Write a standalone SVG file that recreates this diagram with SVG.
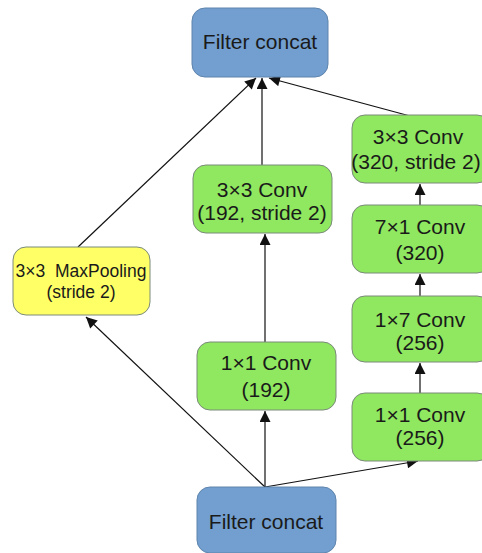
<svg xmlns="http://www.w3.org/2000/svg" width="482" height="553" viewBox="0 0 482 553">
  <style>
    .box { stroke: #7a8a7a; stroke-width: 1; }
    .blue { fill: #729fcf; stroke: #5f84ad; }
    .green { fill: #8fe85f; }
    .yellow { fill: #ffff66; }
    text { font-family: "Liberation Sans", Arial, sans-serif; font-size: 21px; fill: #1a1a1a; text-anchor: middle; white-space: pre; }
    .small { font-size: 17.5px; }
    .edge { stroke: #111; stroke-width: 1.2; fill: none; marker-end: url(#arrow); }
  </style>
  <defs>
    <marker id="arrow" viewBox="0 0 10 10" refX="10" refY="5" markerWidth="12" markerHeight="11" markerUnits="userSpaceOnUse" orient="auto">
      <path d="M0,0 L10,5 L0,10 z" fill="#111"/>
    </marker>
  </defs>

  <g id="connectors">
    <line class="edge" x1="265" y1="487" x2="86" y2="317"/>
    <line class="edge" x1="265" y1="487" x2="265" y2="411"/>
    <line class="edge" x1="265" y1="487" x2="418" y2="461"/>
    <line class="edge" x1="265" y1="342" x2="265" y2="234"/>
    <line class="edge" x1="420" y1="393" x2="420" y2="363"/>
    <line class="edge" x1="420" y1="296" x2="420" y2="274"/>
    <line class="edge" x1="420" y1="205" x2="420" y2="184"/>
    <line class="edge" x1="262" y1="165" x2="262" y2="78"/>
    <line class="edge" x1="78" y1="247" x2="256" y2="78"/>
    <line class="edge" x1="410" y1="116" x2="269" y2="78"/>
  </g>

  <g id="concat-top">
    <rect class="box blue" x="192" y="8" width="136" height="69" rx="13"/>
    <text x="260" y="49">Filter concat</text>
  </g>

  <g id="concat-bottom">
    <rect class="box blue" x="197" y="487" width="139" height="66" rx="13"/>
    <text x="266" y="529">Filter concat</text>
  </g>

  <g id="maxpool">
    <rect class="box yellow" x="13" y="247" width="137" height="68" rx="13"/>
    <text class="small" x="81" y="277" xml:space="preserve">3×3  MaxPooling</text>
    <text class="small" x="81" y="298">(stride 2)</text>
  </g>

  <g id="conv1x1-192">
    <rect class="box green" x="197" y="342" width="139" height="68" rx="13"/>
    <text x="266" y="370">1×1 Conv</text>
    <text x="266" y="397">(192)</text>
  </g>

  <g id="conv3x3-192">
    <rect class="box green" x="193" y="165" width="139" height="68" rx="13"/>
    <text x="262" y="197">3×3 Conv</text>
    <text x="262" y="220">(192, stride 2)</text>
  </g>

  <g id="conv1x1-256">
    <rect class="box green" x="352" y="393" width="138" height="68" rx="13"/>
    <text x="420" y="422">1×1 Conv</text>
    <text x="420" y="445">(256)</text>
  </g>

  <g id="conv1x7-256">
    <rect class="box green" x="352" y="296" width="138" height="66" rx="13"/>
    <text x="420" y="327">1×7 Conv</text>
    <text x="420" y="350">(256)</text>
  </g>

  <g id="conv7x1-320">
    <rect class="box green" x="352" y="205" width="138" height="68" rx="13"/>
    <text x="420" y="234">7×1 Conv</text>
    <text x="420" y="260">(320)</text>
  </g>

  <g id="conv3x3-320">
    <rect class="box green" x="352" y="115" width="138" height="68" rx="13"/>
    <text x="418" y="144">3×3 Conv</text>
    <text x="416" y="169">(320, stride 2)</text>
  </g>
</svg>
